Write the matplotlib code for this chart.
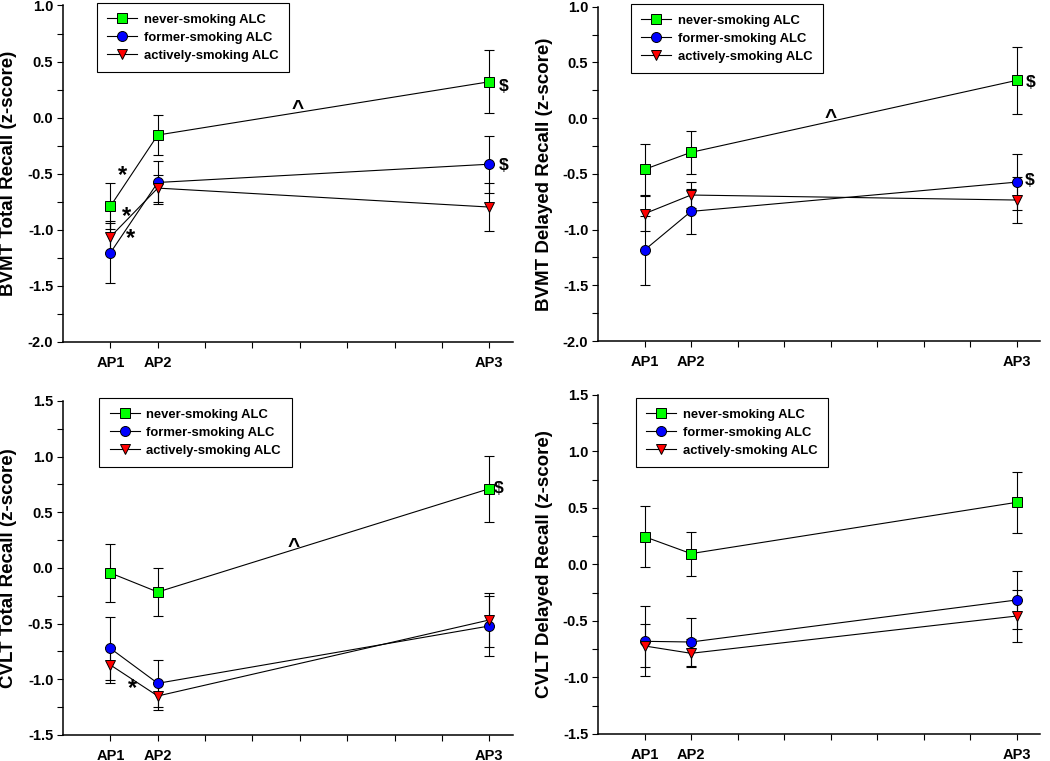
"""Memory z-scores across assessment points for never/former/actively smoking ALC groups."""

import matplotlib
matplotlib.use("Agg")
import matplotlib.pyplot as plt
from matplotlib.ticker import FixedLocator, MultipleLocator


X_POS = [1, 2, 9]
X_LABELS = ["AP1", "AP2", "AP3"]
GROUPS = ["never-smoking ALC", "former-smoking ALC", "actively-smoking ALC"]
COLORS = ["#00ff00", "#0000ff", "#ff0000"]
MARKERS = ["s", "o", "v"]

# rows: never, former, actively smoking
BVMT_TOTAL_MEAN = [[-0.79, -0.155, 0.32], [-1.205, -0.578, -0.415], [-1.063, -0.628, -0.797]]
BVMT_TOTAL_SEM = [[0.205, 0.18, 0.28], [0.27, 0.19, 0.255], [0.14, 0.12, 0.216]]

BVMT_DELAYED_MEAN = [[-0.46, -0.307, 0.339], [-1.184, -0.837, -0.574], [-0.858, -0.69, -0.735]]
BVMT_DELAYED_SEM = [[0.23, 0.19, 0.3], [0.31, 0.2, 0.25], [0.155, 0.12, 0.21]]

CVLT_TOTAL_MEAN = [[-0.045, -0.216, 0.712], [-0.722, -1.036, -0.521], [-0.871, -1.15, -0.467]]
CVLT_TOTAL_SEM = [[0.257, 0.215, 0.297], [0.285, 0.21, 0.27], [0.165, 0.126, 0.245]]

CVLT_DELAYED_MEAN = [[0.246, 0.096, 0.55], [-0.68, -0.686, -0.314], [-0.721, -0.786, -0.456]]
CVLT_DELAYED_SEM = [[0.272, 0.195, 0.272], [0.31, 0.21, 0.26], [0.19, 0.125, 0.228]]

# significance marks (x, y, symbol)
BVMT_TOTAL_MARKS = [(1.25, -0.52, "*"), (1.33, -0.88, "*"), (1.43, -1.08, "*"),
                    (4.95, 0.08, "^"), (9.3, 0.28, "$"), (9.3, -0.43, "$")]
BVMT_DELAYED_MARKS = [(5.0, 0.01, "^"), (9.3, 0.32, "$"), (9.27, -0.556, "$")]
CVLT_TOTAL_MARKS = [(1.47, -1.08, "*"), (4.87, 0.19, "^"), (9.2, 0.716, "$")]
CVLT_DELAYED_MARKS = []


def draw_panel(ax, means, sems, ylabel, ylim, marks, legend_anchor):
    for name, color, marker, mean, sem in zip(GROUPS, COLORS, MARKERS, means, sems):
        ax.errorbar(X_POS, mean, yerr=sem, fmt="none", ecolor="black", elinewidth=0.8,
                    capsize=3.6, capthick=0.8, zorder=2)
        ax.plot(X_POS, mean, color="black", linewidth=0.8, marker=marker, markersize=7.2,
                markerfacecolor=color, markeredgecolor="black", markeredgewidth=0.7,
                label=name, zorder=3)

    for x, y, text in marks:
        size = {"*": 17, "^": 15, "$": 12.5}[text]
        ax.text(x, y, text, ha="center", va="center", fontsize=size, fontweight="bold")

    ax.set_xlim(0, 9.5)
    ax.set_ylim(*ylim)
    ax.xaxis.set_major_locator(FixedLocator(range(1, 10)))
    ax.set_xticklabels(["AP1", "AP2", "", "", "", "", "", "", "AP3"])
    ax.yaxis.set_major_locator(MultipleLocator(0.5))
    ax.yaxis.set_minor_locator(MultipleLocator(0.25))
    ax.yaxis.set_major_formatter(plt.FormatStrFormatter("%.1f"))
    ax.tick_params(axis="x", length=4, width=0.8, pad=6, labelsize=10.5)
    ax.tick_params(axis="y", which="both", length=4, width=0.8, pad=3, labelsize=10.5)
    for label in ax.get_xticklabels() + ax.get_yticklabels():
        label.set_fontweight("bold")

    ax.spines["top"].set_visible(False)
    ax.spines["right"].set_visible(False)
    ax.spines["left"].set_linewidth(1.1)
    ax.spines["bottom"].set_linewidth(1.1)

    ax.set_ylabel(ylabel, fontsize=13.5, fontweight="bold")
    ax.yaxis.set_label_coords(-0.102, 0.5)

    leg = ax.legend(loc="upper left", bbox_to_anchor=legend_anchor, borderaxespad=0,
                    prop={"size": 9.4, "weight": "bold"}, fancybox=False, framealpha=1,
                    edgecolor="black", handlelength=2.3, handletextpad=0.5,
                    labelspacing=0.45, borderpad=0.8)
    leg.get_frame().set_linewidth(0.8)


def main() -> None:
    plt.rcParams["font.family"] = ["Liberation Sans", "DejaVu Sans"]
    fig = plt.figure(figsize=(10.5, 7.61), dpi=100)

    ax1 = fig.add_axes([0.060, 0.5506, 0.4286, 0.4422])
    ax2 = fig.add_axes([0.5695, 0.5519, 0.4210, 0.4393])
    ax3 = fig.add_axes([0.060, 0.0342, 0.4286, 0.4389])
    ax4 = fig.add_axes([0.5695, 0.0355, 0.4210, 0.4455])

    draw_panel(ax1, BVMT_TOTAL_MEAN, BVMT_TOTAL_SEM, "BVMT Total Recall (z-score)",
               (-2.0, 1.0), BVMT_TOTAL_MARKS, (0.075, 1.007))
    draw_panel(ax2, BVMT_DELAYED_MEAN, BVMT_DELAYED_SEM, "BVMT Delayed Recall (z-score)",
               (-2.0, 1.0), BVMT_DELAYED_MARKS, (0.074, 1.008))
    draw_panel(ax3, CVLT_TOTAL_MEAN, CVLT_TOTAL_SEM, "CVLT Total Recall (z-score)",
               (-1.5, 1.5), CVLT_TOTAL_MARKS, (0.081, 1.008))
    draw_panel(ax4, CVLT_DELAYED_MEAN, CVLT_DELAYED_SEM, "CVLT Delayed Recall (z-score)",
               (-1.5, 1.5), CVLT_DELAYED_MARKS, (0.085, 0.99))

    fig.savefig("out.png", dpi=100)
    plt.close(fig)


if __name__ == "__main__":
    main()
